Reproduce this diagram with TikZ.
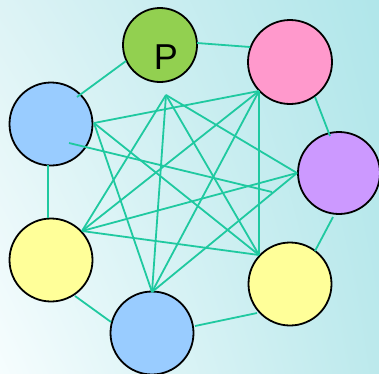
\documentclass[tikz,border=0pt]{standalone}
\usepackage{fontspec}
\setmainfont{Liberation Sans}
\usetikzlibrary{shadings}
\definecolor{bgTL}{HTML}{DDF3F5}
\definecolor{bgTR}{HTML}{B0E6EA}
\definecolor{bgBL}{HTML}{F6FDFE}
\definecolor{bgBR}{HTML}{BCE9EC}
\definecolor{edgecol}{HTML}{1FC9A0}
\definecolor{cgreen}{HTML}{92D050}
\definecolor{cpink}{HTML}{FF99CC}
\definecolor{cpurple}{HTML}{CC99FF}
\definecolor{cyellow}{HTML}{FFFF99}
\definecolor{cblue}{HTML}{99CCFF}
\tikzset{
  ball/.style={circle, draw=black, line width=1.8pt, inner sep=0pt},
  edge/.style={draw=edgecol, line width=1.8pt},
}
\begin{document}
\begin{tikzpicture}[x=1pt, y=-1pt]
\shade[upper left=bgTL, upper right=bgTR, lower left=bgBL, lower right=bgBR] (0,0) rectangle (379,373);
\useasboundingbox (0,0) rectangle (379,373);
% circles
\node[ball, fill=cgreen, minimum size=74pt] (p) at (160,45) {};
\node[ball, fill=cpink, minimum size=84pt] (pink) at (290,62) {};
\node[ball, fill=cblue, minimum size=83pt] (blueTL) at (51,124) {};
\node[ball, fill=cpurple, minimum size=82pt] (purple) at (339,173) {};
\node[ball, fill=cyellow, minimum size=83pt] (yellowL) at (51,260) {};
\node[ball, fill=cyellow, minimum size=83pt] (yellowR) at (290,284) {};
\node[ball, fill=cblue, minimum size=83pt] (blueB) at (152,333) {};
\node[font=\fontsize{36}{36}\selectfont, inner sep=0pt] (plabel) at (166,57) {P};
% inner anchors
\coordinate (a) at (166,95);
\coordinate (b) at (259,91);
\coordinate (c) at (94,123);
\coordinate (d) at (69,143);
\coordinate (dend) at (272,192);
\coordinate (e) at (297,173);
\coordinate (f) at (82,231);
\coordinate (g) at (152,292);
\coordinate (h) at (259,255);
% outer ring anchors
\coordinate (p1) at (197,43);  \coordinate (k1) at (250,47);
\coordinate (k2) at (315,97);  \coordinate (u1) at (330,136);
\coordinate (u2) at (333,217); \coordinate (r1) at (315,251);
\coordinate (r2) at (257,313); \coordinate (bb1) at (195,326);
\coordinate (bb2) at (111,322);\coordinate (l1) at (75,296);
\coordinate (l2) at (48,218);  \coordinate (t1) at (48,165);
\coordinate (t2) at (77,97);   \coordinate (p2) at (126,61);
% outer ring
\draw[edge] (p1) -- (k1);
\draw[edge] (k2) -- (u1);
\draw[edge] (u2) -- (r1);
\draw[edge] (r2) -- (bb1);
\draw[edge] (bb2) -- (l1);
\draw[edge] (l2) -- (t1);
\draw[edge] (t2) -- (p2);
% inner lines
\draw[edge] (a) -- (e);
\draw[edge] (a) -- (h);
\draw[edge] (a) -- (g);
\draw[edge] (a) -- (f);
\draw[edge] (b) -- (h);
\draw[edge] (b) -- (g);
\draw[edge] (b) -- (f);
\draw[edge] (b) -- (c);
\draw[edge] (e) -- (g);
\draw[edge] (e) -- (f);
\draw[edge] (d) -- (dend);
\draw[edge] (h) -- (f);
\draw[edge] (h) -- (c);
\draw[edge] (g) -- (c);
\end{tikzpicture}
\end{document}
